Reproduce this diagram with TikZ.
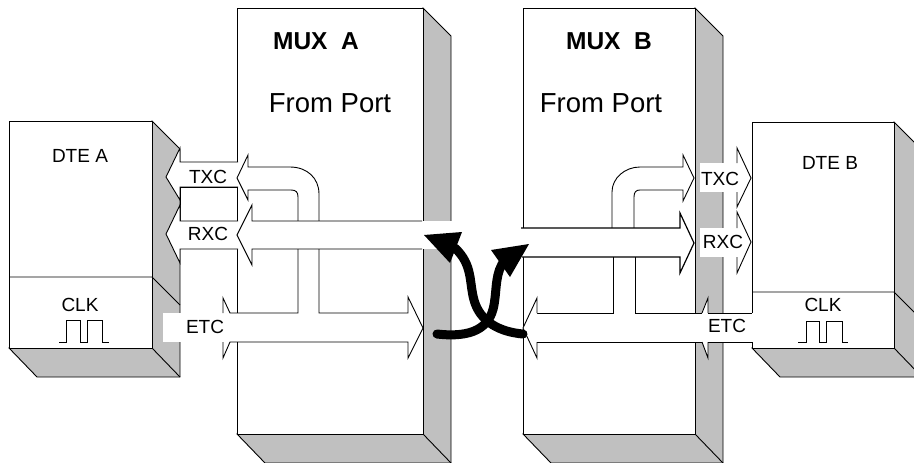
\documentclass[tikz,border=0pt]{standalone}
\usepackage{fontspec}
\setmainfont{Liberation Sans}
\usetikzlibrary{positioning, calc}
\definecolor{sidegray}{RGB}{192,192,192}
\tikzset{
  wire/.style={draw=black, line width=0.9pt, line join=miter},
  boxside/.style={wire, fill=sidegray},
  boxfront/.style={wire, fill=white},
  flow/.style={wire, fill=white},
  lbl/.style={inner sep=0pt, font=\fontsize{19}{22}\selectfont},
  muxname/.style={inner sep=0pt, font=\fontsize{24.5}{27}\selectfont\bfseries},
  portname/.style={inner sep=0pt, font=\fontsize{27.5}{30}\selectfont},
  crossing/.style={draw=black, line width=9pt, line cap=round}
}
\begin{document}
\begin{tikzpicture}[x=1pt,y=-1pt]
  \useasboundingbox (0,0) rectangle (914,463);
  \clip (0,0) rectangle (914,463);
  % the four boxes: left, right, top, bottom
  \foreach \l/\r/\t/\b in {9/152/121/348, 237/423/8/434, 523/695/8/434, 752/894/122/348} {
    \draw[boxside] (\r,\t) -- (\r+28,\t+28) -- (\r+28,\b+29) -- (\l+28,\b+29) -- (\l,\b) -- cycle;
    \draw[wire] (\r,\b) -- (\r+28,\b+29);
    \draw[boxfront] (\l,\t) rectangle (\r,\b);
  }
  \draw[wire] (9,277) -- (152,277) -- (180,305);
  \draw[wire] (752,292) -- (894,292) -- (922,320);

  % DTE A side
  \draw[flow] (238,162) -- (180,162) -- (180,148) -- (166,177) -- (180,200) -- (180,187) -- (238,187);
  \draw[boxfront] (180,187) rectangle (237,221);
  \draw[flow] (238,221) -- (180,221) -- (180,205) -- (166,234) -- (180,263) -- (180,249) -- (238,249);

  % MUX A
  \fill[white] (422,221) rectangle (453,249);
  \draw[flow] (298,221) -- (298,197) .. controls (298,192) and (296,190) .. (291,190) -- (248,190)
    -- (248,200) -- (237,178) -- (248,155) -- (248,167) -- (290,167)
    .. controls (307,167) and (319,178) .. (319,194) -- (319,221);
  \draw[flow] (422,221) -- (252,221) -- (252,205) -- (237,235) -- (252,265) -- (252,249) -- (422,249);
  \fill[white] (163,313) rectangle (238,342);
  \draw[wire] (298,249) -- (298,313) -- (230,313) -- (223,298) -- (223,313);
  \draw[wire] (319,249) -- (319,313) -- (408,313) -- (408,297) -- (423,328) -- (408,358) -- (408,342)
    -- (230,342) -- (223,358) -- (223,342);

  % MUX B
  \draw[flow] (612,228) -- (612,192) .. controls (612,178) and (625,167) .. (640,167) -- (683,167)
    -- (683,155) -- (694,178) -- (683,201) -- (683,190) -- (640,190)
    .. controls (636,190) and (634,192) .. (634,197) -- (634,228);
  \draw[flow, line width=1.2pt] (521,228) -- (680,228) -- (680,213) -- (694,243) -- (680,273) -- (680,257) -- (522,257);
  \fill[white] (537,313) rectangle (753,342);
  \draw[wire] (613,257) -- (613,313) -- (537,313);
  \draw[flow] (537,342) -- (537,358) -- (523,328) -- (537,298) -- (537,313);
  \draw[wire] (537,342) -- (702,342);
  \draw[flow] (702,342) -- (708,358) -- (708,342);
  \draw[wire] (708,342) -- (752,342);
  \draw[wire] (635,257) -- (635,313) -- (702,313);
  \draw[flow] (702,313) -- (708,298) -- (708,313);
  \draw[wire] (708,313) -- (752,313);

  % DTE B side
  \fill[white] (700,163) rectangle (738,192);
  \fill[white] (700,228) rectangle (738,257);
  \draw[flow] (737,163) -- (737,148) -- (751,178) -- (737,207) -- (737,192);
  \draw[flow] (737,228) -- (737,212) -- (751,242) -- (737,273) -- (737,257);

  % clock pulses
  \draw[wire, line width=0.7pt] (59,342) -- (66,342) -- (66,320) -- (80,320) -- (80,342) -- (87,342)
    -- (87,320) -- (102,320) -- (102,342) -- (109,342);
  \draw[wire, line width=0.7pt] (798,342) -- (806,342) -- (806,321) -- (819,321) -- (819,342) -- (826,342)
    -- (826,321) -- (842,321) -- (842,342) -- (848,342);

  % crossing clocks
  \coordinate (crossAstart) at (437,334);
  \coordinate (crossAend) at (505,260);
  \coordinate (crossBstart) at (523,334);
  \coordinate (crossBend) at (455,248);
  \draw[crossing] (crossAstart) .. controls (472,338) and (490,328) .. (494,305)
    .. controls (497,288) and (495,272) .. (crossAend);
  \draw[crossing] (crossBstart) .. controls (500,332) and (480,322) .. (474,300)
    .. controls (469,282) and (473,265) .. (crossBend);
  \fill (529,244) -- (491,250) -- (510,277) -- cycle;
  \fill (424,235) -- (462,232) -- (450,263) -- cycle;

  % labels
  \node[lbl] (dtea) at (80,156) {DTE A};
  \node[lbl] (clka) at (80,305) {CLK};
  \node[lbl] (txca) at (208,177) {TXC};
  \node[lbl] (rxca) at (208,234) {RXC};
  \node[lbl] (etca) at (205,327) {ETC};
  \node[muxname] (muxa) at (316,41) {MUX\ \ A};
  \node[portname] (porta) at (330,103) {From Port};
  \node[muxname] (muxb) at (609,41) {MUX\ \ B};
  \node[portname] (portb) at (601,103) {From Port};
  \node[lbl] (dteb) at (830,163) {DTE B};
  \node[lbl] (clkb) at (823,305) {CLK};
  \node[lbl] (txcb) at (720,179) {TXC};
  \node[lbl] (rxcb) at (723,242) {RXC};
  \node[lbl] (etcb) at (727,326) {ETC};
\end{tikzpicture}
\end{document}
